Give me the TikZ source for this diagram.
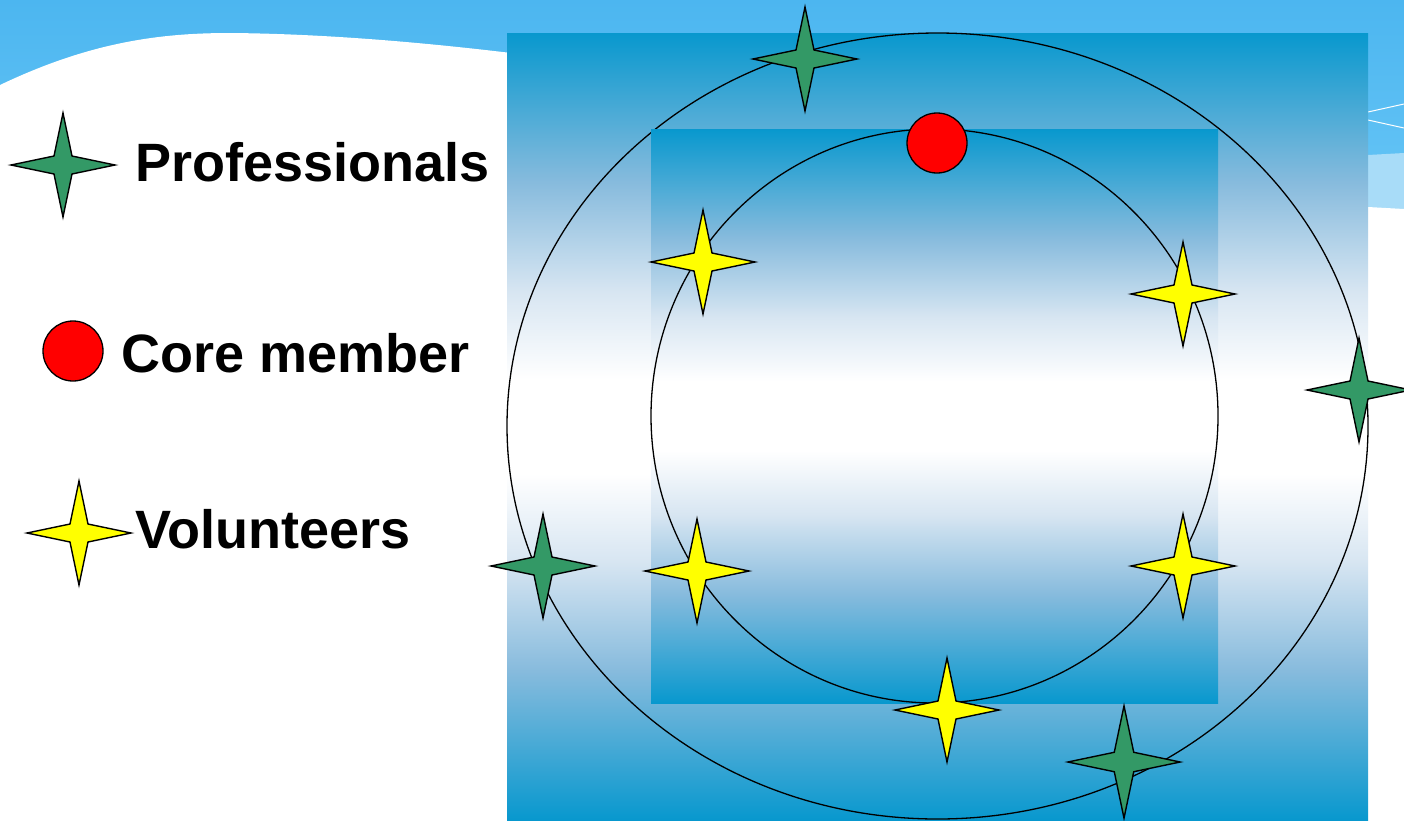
\documentclass[tikz,border=0pt]{standalone}
\usepackage{fontspec}
\setmainfont{Liberation Sans}
\definecolor{skytop}{RGB}{76,182,240}
\definecolor{skybot}{RGB}{104,198,246}
\definecolor{skylight}{RGB}{168,220,248}
\definecolor{rectblue}{RGB}{8,152,206}
\definecolor{midblue}{RGB}{135,187,221}
\definecolor{paleblue}{RGB}{216,230,242}
\definecolor{progreen}{RGB}{51,153,102}
\definecolor{volyellow}{RGB}{255,255,0}
\pgfdeclareverticalshading{boxshade}{100bp}{%
  color(0bp)=(rectblue); color(25bp)=(rectblue);
  color(34.5bp)=(midblue); color(41.5bp)=(paleblue);
  color(47bp)=(white); color(53bp)=(white);
  color(58.5bp)=(paleblue); color(65.5bp)=(midblue);
  color(75bp)=(rectblue); color(100bp)=(rectblue)}
\tikzset{
  ring/.style={draw=black, line width=1.3pt},
  gradbox/.style={shading=boxshade, draw=none},
  core/.style={circle, draw=black, line width=1.3pt, fill=red, minimum size=60pt, inner sep=0pt},
  legendtext/.style={anchor=base west, inner sep=0pt, font=\fontsize{54}{60}\selectfont\bfseries},
  pics/star4/.style={code={
    \draw[line width=1.4pt, fill=#1, line join=miter]
      (0,-52) -- (9,-9) -- (52,0) -- (9,9) -- (0,52) -- (-9,9) -- (-52,0) -- (-9,-9) -- cycle;
  }}
}
\begin{document}
\begin{tikzpicture}[x=1pt,y=-1pt]
\useasboundingbox (0,0) rectangle (1404,820);
% background
\fill[top color=skytop, bottom color=skybot] (0,0) rectangle (1404,220);
\fill[skylight] (507,100) -- (1368,155) -- (1404,153) -- (1404,300) -- (507,300) -- cycle;
\fill[white] (0,85) .. controls (90,42) and (160,33) .. (230,33)
  .. controls (600,36) and (1100,160) .. (1368,207) -- (1404,209) -- (1404,820) -- (0,820) -- cycle;
\draw[white, line width=1pt] (1368,112) -- (1404,104);
\draw[white, line width=1pt] (1368,120) -- (1404,128);
% outer box and ring
\shade[gradbox] (507,33) rectangle (1368,820);
\draw[ring] (937.5,426) ellipse [x radius=430.5pt, y radius=393pt];
% inner box and ring
\shade[gradbox] (651,129) rectangle (1218,703);
\draw[ring] (934.5,416) ellipse [x radius=283.5pt, y radius=287pt];
% core member
\node[core] (core) at (937,143) {};
% professionals
\pic (p1) at (805,59) {star4=progreen};
\pic (p2) at (1359,390) {star4=progreen};
\pic (p3) at (543,566) {star4=progreen};
\pic[scale=1.08] (p4) at (1124,762) {star4=progreen};
% volunteers
\pic (v1) at (703,262) {star4=volyellow};
\pic (v2) at (1183,294) {star4=volyellow};
\pic (v3) at (697,571) {star4=volyellow};
\pic (v4) at (1183,566) {star4=volyellow};
\pic (v5) at (947,710) {star4=volyellow};
% legend
\pic (lp) at (63,165) {star4=progreen};
\node[legendtext] (tp) at (135,181) {Professionals};
\node[core] (lc) at (73,351) {};
\node[legendtext] (tc) at (121,372) {Core member};
\pic (lv) at (79,533) {star4=volyellow};
\node[legendtext] (tv) at (135,548) {Volunteers};
\end{tikzpicture}
\end{document}
